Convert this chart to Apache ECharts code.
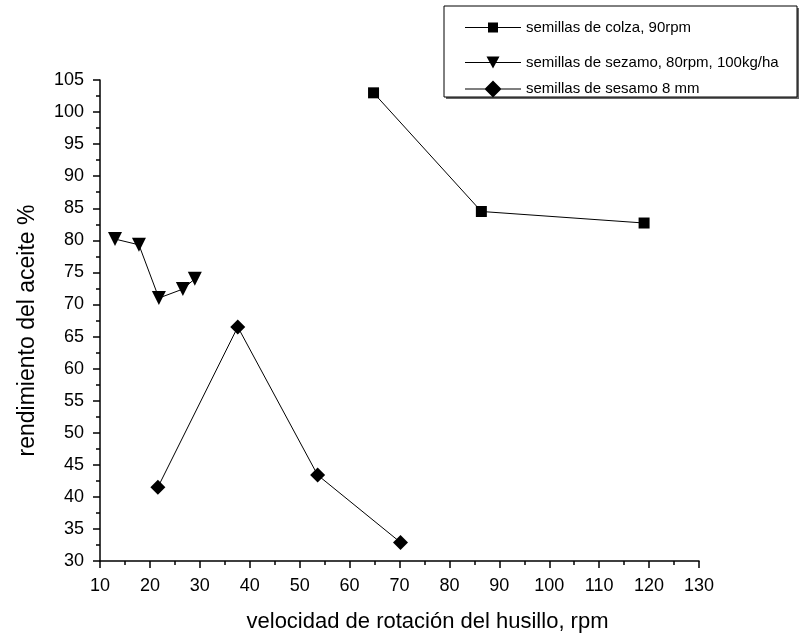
<!DOCTYPE html>
<html><head><meta charset="utf-8">
<script src="https://cdn.jsdelivr.net/npm/echarts@6/dist/echarts.min.js"></script>
<style>html,body{margin:0;padding:0;background:#fff}#c{width:801px;height:643px}</style>
</head><body><div id="c"></div>
<script>
const seriesNames = ['semillas de colza, 90rpm', 'semillas de sezamo, 80rpm, 100kg/ha', 'semillas de sesamo 8 mm'];
const colzaX = [64.8, 86.4, 119.0];
const colzaY = [103.0, 84.5, 82.7];
const sezamoX = [13.0, 17.8, 21.8, 26.6, 29.0];
const sezamoY = [80.2, 79.3, 71.0, 72.4, 74.0];
const sesamoX = [21.6, 37.6, 53.6, 70.2];
const sesamoY = [41.5, 66.5, 43.4, 32.9];
const xTicks = {min: 10, max: 130, interval: 10};
const yTicks = {min: 30, max: 105, interval: 5};

const pairs = (xs, ys) => xs.map((x, i) => [x, ys[i]]);
const font = 'Liberation Sans, Arial, sans-serif';
const chart = echarts.init(document.getElementById('c'));
const legendBase = {
  orient: 'vertical', itemWidth: 56, itemGap: 0, padding: 0,
  textStyle: {fontFamily: font, fontSize: 15, color: '#000'},
  itemStyle: {color: '#000', borderWidth: 0},
  selectedMode: false
};
const iconSquare = 'path://M0,4.5L56,4.5L56,5.5L0,5.5Z M23,0L33,0L33,10L23,10Z';
const iconTri = 'path://M0,5.5L56,5.5L56,6.5L0,6.5Z M21.5,0L34.5,0L28,12Z';
const iconDia = 'path://M0,8L56,8L56,9L0,9Z M28,0L36.5,8.5L28,17L19.5,8.5Z';
const axisCommon = {
  axisLine: {show: true, onZero: false, lineStyle: {color: '#000', width: 1.5}},
  axisTick: {show: true, inside: false, length: 7, lineStyle: {color: '#000', width: 1.5}},
  minorTick: {show: true, splitNumber: 2, length: 4, lineStyle: {color: '#000', width: 1.5}},
  axisLabel: {fontFamily: font, fontSize: 18, color: '#000', margin: 16},
  splitLine: {show: false}
};
chart.setOption({
  animation: false,
  graphic: [
    {type: 'rect', shape: {x: 446, y: 8, width: 353, height: 91}, style: {fill: '#666'}, z: 0},
    {type: 'rect', shape: {x: 444, y: 6, width: 353, height: 91}, style: {fill: '#fff', stroke: '#000', lineWidth: 1}, z: 1}
  ],
  legend: [
    Object.assign({}, legendBase, {data: [{name: seriesNames[0], icon: iconSquare}], itemHeight: 10, left: 465, top: 20, z: 5}),
    Object.assign({}, legendBase, {data: [{name: seriesNames[1], icon: iconTri}], itemHeight: 12, left: 465, top: 55, z: 5}),
    Object.assign({}, legendBase, {data: [{name: seriesNames[2], icon: iconDia}], itemHeight: 17, left: 465, top: 80.5, z: 5})
  ],
  grid: {left: 100, right: 102, top: 80, bottom: 82, containLabel: false},
  xAxis: Object.assign({
    type: 'value', min: xTicks.min, max: xTicks.max, interval: xTicks.interval,
    name: 'velocidad de rotación del husillo, rpm', nameLocation: 'middle', nameGap: 50,
    nameTextStyle: {fontFamily: font, fontSize: 22, color: '#000', padding: [0, 0, 0, 56]}
  }, axisCommon),
  yAxis: Object.assign({
    type: 'value', min: yTicks.min, max: yTicks.max, interval: yTicks.interval,
    name: 'rendimiento del aceite %', nameLocation: 'middle', nameGap: 61,
    nameTextStyle: {fontFamily: font, fontSize: 23, color: '#000', padding: [0, 20, 0, 0]}
  }, axisCommon),
  series: [
    {name: seriesNames[0], type: 'line', data: pairs(colzaX, colzaY), symbol: 'rect', symbolSize: 11,
     lineStyle: {color: '#000', width: 1}, itemStyle: {color: '#000'}, showAllSymbol: true},
    {name: seriesNames[1], type: 'line', data: pairs(sezamoX, sezamoY), symbol: 'triangle', symbolRotate: 180, symbolSize: 14,
     lineStyle: {color: '#000', width: 1}, itemStyle: {color: '#000'}, showAllSymbol: true},
    {name: seriesNames[2], type: 'line', data: pairs(sesamoX, sesamoY), symbol: 'diamond', symbolSize: 15,
     lineStyle: {color: '#000', width: 1}, itemStyle: {color: '#000'}, showAllSymbol: true}
  ]
});
</script></body></html>
